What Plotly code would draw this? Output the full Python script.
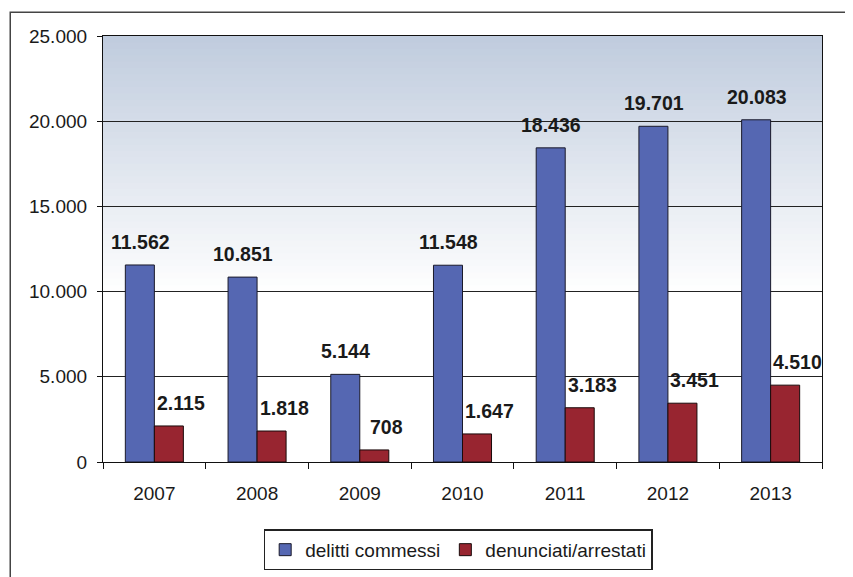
import plotly.graph_objects as go

anni = ["2007", "2008", "2009", "2010", "2011", "2012", "2013"]
delitti = [11562, 10851, 5144, 11548, 18436, 19701, 20083]
denunciati = [2115, 1818, 708, 1647, 3183, 3451, 4510]
y_ticks = [0, 5000, 10000, 15000, 20000, 25000]


def fmt(v):
    # separatore delle migliaia all'italiana
    return f"{v:,}".replace(",", ".")


pos = list(range(len(anni)))

fig = go.Figure()
fig.add_trace(go.Bar(x=pos, y=delitti, name="delitti commessi",
                     marker=dict(color="#5567b2", line=dict(color="#1a1a2a", width=1))))
fig.add_trace(go.Bar(x=pos, y=denunciati, name="denunciati/arrestati",
                     marker=dict(color="#982530", line=dict(color="#1a0a0a", width=1))))

# etichette sopra le barre
lab_font = dict(family="Liberation Sans, Arial", size=19.5, color="#1a1a1a")
for p, v in zip(pos, delitti):
    fig.add_annotation(x=p, y=v, xref="x", yref="y", text="<b>" + fmt(v) + "</b>",
                       showarrow=False, yanchor="bottom", xshift=-14, yshift=10, font=lab_font)
for p, v in zip(pos, denunciati):
    fig.add_annotation(x=p, y=v, xref="x", yref="y", text="<b>" + fmt(v) + "</b>",
                       showarrow=False, yanchor="bottom", xshift=27, yshift=10, font=lab_font)

# sfondo sfumato dell'area del grafico
shapes = []
n = 40
top = (192, 204, 222)
for i in range(n):
    y0 = 0.4 + 0.6 * i / n
    t = (i + 0.5) / n
    c = tuple(int(255 + (tc - 255) * t) for tc in top)
    shapes.append(dict(type="rect", xref="paper", yref="paper", x0=0, x1=1,
                       y0=y0, y1=y0 + 0.6 / n + 0.002, fillcolor="rgb(%d,%d,%d)" % c,
                       line=dict(width=0), layer="below"))
# cornice esterna
shapes.append(dict(type="rect", xref="paper", yref="paper", x0=-0.129, x1=1.2,
                   y0=-0.5, y1=1.056, line=dict(color="#444", width=1.5)))

fig.update_layout(
    width=845, height=569,
    paper_bgcolor="white", plot_bgcolor="white",
    barmode="group", bargap=0.435, bargroupgap=0,
    margin=dict(l=95, r=31, t=28, b=115, autoexpand=False),
    font=dict(family="Liberation Sans, Arial", size=18, color="#1a1a1a"),
    shapes=shapes,
    legend=dict(orientation="h", x=0.494, xanchor="center", y=-0.158, yanchor="top",
                bordercolor="#222", borderwidth=1.5, bgcolor="white",
                font=dict(size=19)),
    showlegend=True,
)
fig.update_xaxes(range=[-0.5, len(anni) - 0.5], tickvals=pos, ticktext=anni, ticks="",
                 showline=True, linecolor="#111", linewidth=1.2, mirror=True, automargin=False,
                 showgrid=False, zeroline=False, tickfont=dict(size=19), ticklabelstandoff=14,
                 minor=dict(tickvals=[p - 0.5 for p in pos] + [len(anni) - 0.5],
                            ticks="outside", ticklen=6, tickcolor="#111", showgrid=False))
fig.update_yaxes(range=[0, 25000], tickvals=y_ticks, ticktext=[fmt(v) for v in y_ticks],
                 showline=True, linecolor="#111", linewidth=1.2, mirror=True, automargin=False,
                 showgrid=True, gridcolor="#222", gridwidth=1,
                 ticks="outside", ticklen=5, tickcolor="#111", ticklabelstandoff=6,
                 tickfont=dict(size=19), zeroline=False)

fig.write_html("out.html")
